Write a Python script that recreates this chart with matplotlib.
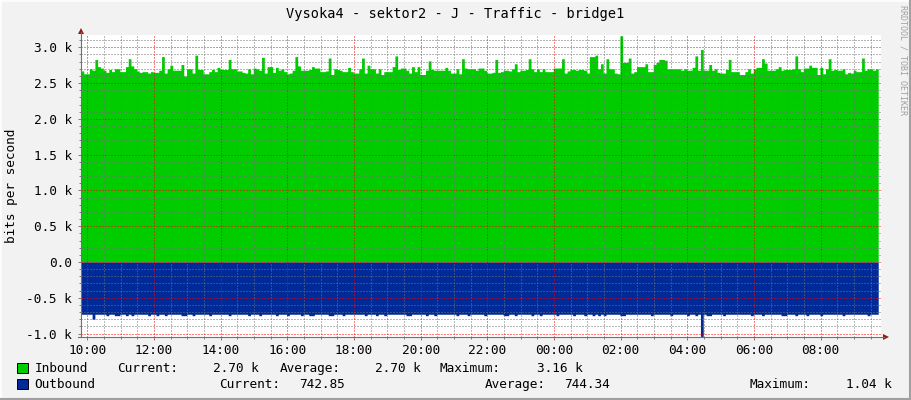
import numpy as np
import matplotlib
matplotlib.use("Agg")
import matplotlib.pyplot as plt
from matplotlib.patches import Rectangle, Polygon
from matplotlib.ticker import MultipleLocator, FuncFormatter

# ---------------- data ----------------
title = "Vysoka4 - sektor2 - J - Traffic - bridge1"
y_label = "bits per second"
start_hour = 9.811      # first sample (hours, local time)
step_minutes = 5

inbound_k = [
    2.67, 2.63, 2.63, 2.70, 2.68, 2.83, 2.73, 2.71, 2.68, 2.65,
    2.69, 2.66, 2.70, 2.70, 2.66, 2.66, 2.73, 2.84, 2.74, 2.70,
    2.67, 2.65, 2.66, 2.66, 2.64, 2.66, 2.65, 2.65, 2.68, 2.87,
    2.64, 2.70, 2.75, 2.68, 2.68, 2.68, 2.76, 2.60, 2.70, 2.70,
    2.64, 2.89, 2.69, 2.69, 2.63, 2.63, 2.66, 2.69, 2.66, 2.72,
    2.69, 2.69, 2.69, 2.83, 2.70, 2.70, 2.67, 2.67, 2.65, 2.64,
    2.70, 2.63, 2.71, 2.70, 2.68, 2.86, 2.64, 2.73, 2.73, 2.65,
    2.72, 2.68,
    2.70, 2.66, 2.63, 2.64, 2.68, 2.87, 2.74, 2.68, 2.68, 2.68,
    2.69, 2.73, 2.71, 2.71, 2.66, 2.66, 2.67, 2.85, 2.62, 2.70,
    2.69, 2.68, 2.66, 2.66, 2.72, 2.66, 2.64, 2.64, 2.70, 2.85,
    2.64, 2.75, 2.70, 2.70, 2.64, 2.70, 2.62, 2.66, 2.66, 2.66,
    2.73, 2.88, 2.69, 2.71, 2.71, 2.68, 2.64, 2.73, 2.66, 2.73,
    2.62, 2.62, 2.68, 2.81, 2.69, 2.68, 2.68, 2.68, 2.68, 2.72,
    2.68, 2.64, 2.64, 2.70, 2.63, 2.84, 2.71, 2.70, 2.70, 2.70,
    2.68, 2.71,
    2.71, 2.68, 2.64, 2.64, 2.65, 2.83, 2.65, 2.66, 2.68, 2.68,
    2.67, 2.70, 2.77, 2.66, 2.68, 2.68, 2.69, 2.84, 2.70, 2.66,
    2.70, 2.66, 2.70, 2.66, 2.66, 2.66, 2.71, 2.71, 2.71, 2.84,
    2.64, 2.67, 2.69, 2.69, 2.68, 2.69, 2.69, 2.68, 2.64, 2.87,
    2.87, 2.89, 2.70, 2.77, 2.64, 2.84, 2.70, 2.70, 2.64, 2.63,
    3.16, 2.79, 2.79, 2.85, 2.64, 2.66, 2.73, 2.73, 2.73, 2.77,
    2.66, 2.66, 2.76, 2.79, 2.83, 2.83, 2.82, 2.70, 2.70, 2.70,
    2.70, 2.70,
    2.68, 2.70, 2.68, 2.68, 2.72, 2.88, 2.68, 2.97, 2.68, 2.68,
    2.76, 2.68, 2.70, 2.65, 2.64, 2.64, 2.69, 2.83, 2.66, 2.66,
    2.66, 2.62, 2.62, 2.66, 2.70, 2.64, 2.70, 2.72, 2.72, 2.84,
    2.78, 2.68, 2.68, 2.68, 2.70, 2.73, 2.68, 2.69, 2.69, 2.69,
    2.70, 2.88, 2.70, 2.66, 2.71, 2.71, 2.75, 2.72, 2.72, 2.62,
    2.72, 2.63, 2.70, 2.84, 2.68, 2.69, 2.68, 2.68, 2.70, 2.63,
    2.65, 2.64, 2.68, 2.66, 2.66, 2.85, 2.68, 2.70, 2.70, 2.68,
    2.70,
]

outbound_k = [
    0.73, 0.73, 0.73, 0.73, 0.80, 0.73, 0.73, 0.73, 0.73, 0.75,
    0.73, 0.73, 0.75, 0.75, 0.73, 0.73, 0.75, 0.73, 0.75, 0.73,
    0.73, 0.73, 0.73, 0.73, 0.75, 0.73, 0.73, 0.75, 0.73, 0.73,
    0.75, 0.73, 0.73, 0.73, 0.73, 0.73, 0.75, 0.75, 0.73, 0.73,
    0.75, 0.73, 0.73, 0.73, 0.73, 0.73, 0.75, 0.73, 0.73, 0.73,
    0.73, 0.73, 0.73, 0.75, 0.73, 0.73, 0.73, 0.73, 0.73, 0.73,
    0.75, 0.73, 0.73, 0.73, 0.75, 0.73, 0.73, 0.73, 0.73, 0.73,
    0.75, 0.73, 0.73, 0.73, 0.75, 0.73, 0.73, 0.73, 0.73, 0.75,
    0.73, 0.73, 0.75, 0.75, 0.73, 0.73, 0.73, 0.73, 0.73, 0.75,
    0.75, 0.73, 0.73, 0.73, 0.75, 0.73, 0.73, 0.73, 0.73, 0.73,
    0.73, 0.73, 0.75, 0.73, 0.73, 0.73, 0.75, 0.73, 0.73, 0.75,
    0.73, 0.73, 0.73, 0.73, 0.73, 0.73, 0.73, 0.75, 0.75, 0.73,
    0.73, 0.73, 0.73, 0.73, 0.75, 0.73, 0.73, 0.75, 0.73, 0.73,
    0.73, 0.73, 0.73, 0.73, 0.73, 0.75, 0.73, 0.73, 0.73, 0.75,
    0.73, 0.73, 0.73, 0.73, 0.73, 0.75, 0.73, 0.73, 0.73, 0.73,
    0.73, 0.73, 0.75, 0.75, 0.73, 0.73, 0.75, 0.73, 0.73, 0.73,
    0.73, 0.73, 0.75, 0.73, 0.73, 0.75, 0.73, 0.73, 0.73, 0.73,
    0.73, 0.75, 0.73, 0.73, 0.73, 0.73, 0.73, 0.75, 0.73, 0.73,
    0.73, 0.75, 0.73, 0.73, 0.75, 0.73, 0.75, 0.73, 0.75, 0.73,
    0.73, 0.73, 0.73, 0.73, 0.75, 0.75, 0.73, 0.73, 0.73, 0.73,
    0.73, 0.73, 0.73, 0.73, 0.73, 0.75, 0.73, 0.73, 0.73, 0.73,
    0.73, 0.73, 0.75, 0.73, 0.73, 0.73, 0.73, 0.73, 0.75, 0.73,
    0.73, 0.75, 0.73, 1.04, 0.73, 0.75, 0.75, 0.73, 0.73, 0.73,
    0.73, 0.75, 0.73, 0.73, 0.73, 0.73, 0.73, 0.73, 0.73, 0.73,
    0.73, 0.75, 0.73, 0.73, 0.73, 0.75, 0.73, 0.73, 0.73, 0.73,
    0.73, 0.73, 0.75, 0.75, 0.73, 0.73, 0.73, 0.75, 0.73, 0.73,
    0.73, 0.75, 0.73, 0.73, 0.73, 0.73, 0.75, 0.73, 0.73, 0.73,
    0.73, 0.73, 0.73, 0.73, 0.75, 0.73, 0.73, 0.73, 0.73, 0.73,
    0.73, 0.73, 0.73, 0.75, 0.73, 0.73, 0.73,
]

series_names = ["Inbound", "Outbound"]
inbound_stats = ["2.70 k", "2.70 k", "3.16 k"]       # current, average, maximum
outbound_stats = ["742.85", "744.34", "1.04 k"]
watermark = "RRDTOOL / TOBI OETIKER"

# ---------------- styling ----------------
W, H = 911, 400
BG = "#F2F2F2"
GREEN = "#00CC00"
BLUE = "#002A97"
MONO = "DejaVu Sans Mono"
FS = 9.2

fig = plt.figure(figsize=(W / 100, H / 100), dpi=100, facecolor=BG)

L, R, T, B = 81, 881, 35, 337
ax = fig.add_axes([L / W, 1 - B / H, (R - L) / W, (B - T) / H])
ax.set_facecolor("white")

n = len(inbound_k)
t = start_hour + np.arange(n + 1) * step_minutes / 60.0
inb = np.append(inbound_k, inbound_k[-1])
outb = -np.append(outbound_k, outbound_k[-1])

ax.fill_between(t, 0, inb, step="post", color=GREEN, lw=0, zorder=1)
ax.fill_between(t, outb, 0, step="post", color=BLUE, lw=0, zorder=1)

ax.set_xlim(start_hour, start_hour + 24)
ax.set_ylim(-1.048, 3.172)

ax.xaxis.set_major_locator(MultipleLocator(2))
ax.xaxis.set_minor_locator(MultipleLocator(0.5))
ax.yaxis.set_major_locator(MultipleLocator(0.5))
ax.yaxis.set_minor_locator(MultipleLocator(0.1))
ax.xaxis.set_major_formatter(FuncFormatter(lambda v, p: "%02d:00" % (int(round(v)) % 24)))
ax.yaxis.set_major_formatter(FuncFormatter(lambda v, p: "0.0" if abs(v) < 1e-9 else "%.1f k" % v))

dot = (0, (1, 2))
ax.set_axisbelow(False)
ax.grid(which="major", color=(1, 0.0, 0.0, 0.32), linestyle=dot, linewidth=0.72)
ax.grid(which="minor", color=(0.45, 0.45, 0.45, 0.32), linestyle=dot, linewidth=0.72)

for s in ax.spines.values():
    s.set_visible(False)

ax.tick_params(which="both", direction="out", color="#808080", width=0.72,
               labelsize=FS, labelcolor="black")
ax.tick_params(which="major", length=2.2)
ax.tick_params(which="minor", length=1.5)
ax.tick_params(axis="y", which="major", pad=4.5)
ax.tick_params(axis="x", which="major", pad=2.5)
for lab in ax.get_xticklabels() + ax.get_yticklabels():
    lab.set_family(MONO)

# ---------------- overlay in pixel coordinates ----------------
ov = fig.add_axes([0, 0, 1, 1])
ov.set_xlim(0, W)
ov.set_ylim(H, 0)
ov.axis("off")
ov.patch.set_alpha(0)

# frame
ov.plot([0, W], [0.5, 0.5], color="white", lw=1.2)
ov.plot([0.5, 0.5], [0, H], color="white", lw=1.2)
ov.plot([0, W], [399, 399], color="#A0A0A0", lw=1.5)
ov.plot([910, 910], [0, H], color="#A0A0A0", lw=1.5)

# axes lines + arrows
ov.plot([L, L], [B, 32], color="#707070", lw=0.8)
ov.plot([L - 3, 884], [B, B], color="#707070", lw=0.8)
ov.add_patch(Polygon([(L - 3, 34), (L + 3, 34), (L, 28)], closed=True, color="#8C1C1C", lw=0))
ov.add_patch(Polygon([(883, B - 3), (883, B + 3), (889, B)], closed=True, color="#8C1C1C", lw=0))

ov.text(W / 2, 14, title, ha="center", va="center", family=MONO, size=9.8)
ov.text(12, (T + B) / 2, y_label, ha="center", va="center", rotation=90, family=MONO, size=FS)
ov.text(903, 60, watermark, ha="center", va="center", rotation=270, family=MONO,
        size=6, color="#A0A0A0")

# legend
ov.add_patch(Rectangle((17, 363), 11, 10, facecolor=GREEN, edgecolor="black", lw=0.7))
ov.add_patch(Rectangle((17, 379), 11, 10, facecolor=BLUE, edgecolor="black", lw=0.7))

row1 = 368.3
row2 = 384.3
items1 = [(34.3, series_names[0]), (116.7, "Current:"), (212.7, inbound_stats[0]),
          (279.3, "Average:"), (375.0, inbound_stats[1]),
          (439.5, "Maximum:"), (536.7, inbound_stats[2])]
items2 = [(34.3, series_names[1]), (219.3, "Current:"), (299.3, outbound_stats[0]),
          (485.0, "Average:"), (564.3, outbound_stats[1]),
          (749.3, "Maximum:"), (846.0, outbound_stats[2])]
for x, s in items1:
    ov.text(x, row1, s, ha="left", va="center", family=MONO, size=FS)
for x, s in items2:
    ov.text(x, row2, s, ha="left", va="center", family=MONO, size=FS)

fig.savefig("out.png", dpi=100, facecolor=BG)
